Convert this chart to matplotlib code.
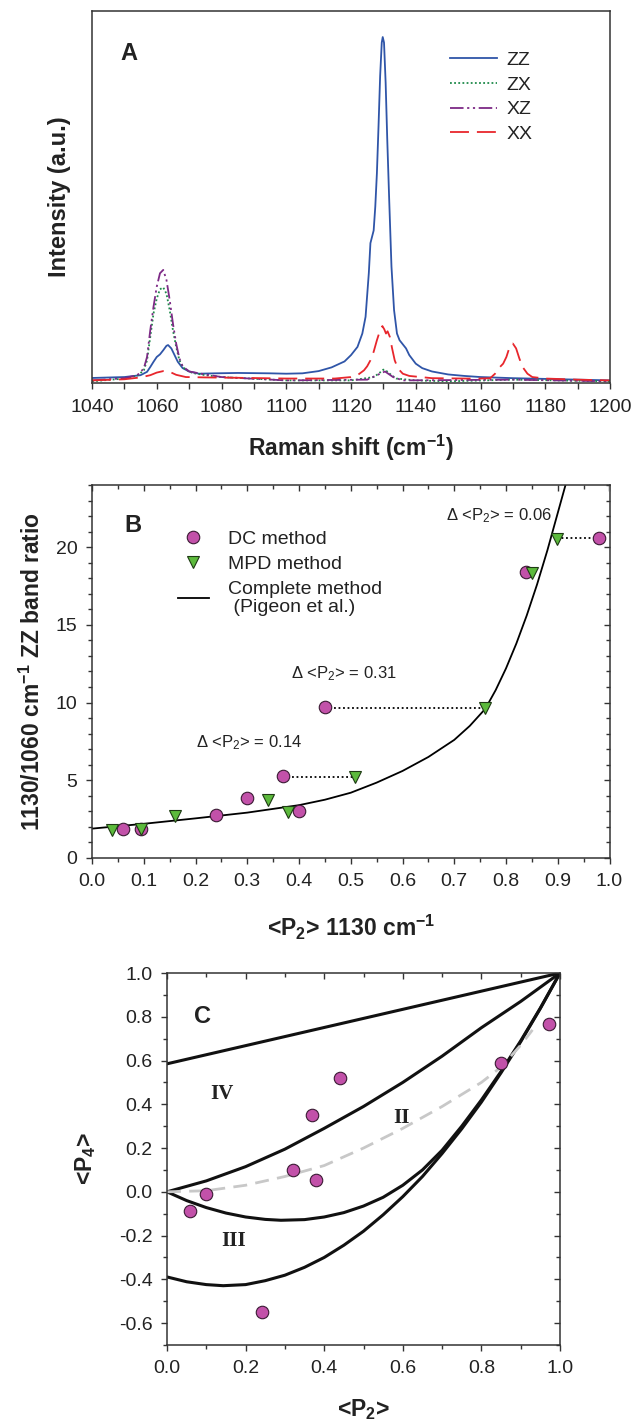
import matplotlib
matplotlib.use('Agg')
import matplotlib.pyplot as plt
from matplotlib.ticker import MultipleLocator, NullLocator
from matplotlib.lines import Line2D

plt.rcParams['font.family'] = ['Liberation Sans', 'DejaVu Sans']
plt.rcParams['mathtext.fontset'] = 'custom'
plt.rcParams['mathtext.rm'] = 'Liberation Sans'
plt.rcParams['mathtext.it'] = 'Liberation Sans:italic'
plt.rcParams['mathtext.bf'] = 'Liberation Sans:bold'
plt.rcParams['mathtext.default'] = 'regular'

# ---------------- Panel A data (Raman spectra, arbitrary units) ----------------
zz_x = [1040, 1050, 1055, 1057, 1058, 1059, 1060, 1061, 1062, 1063, 1063.5, 1064.5, 1065.5, 1066.5,
        1068, 1070, 1073, 1078, 1085, 1095, 1100, 1105, 1110, 1114, 1116.5, 1118, 1120, 1122,
        1123.5, 1124.5, 1125.5, 1126, 1127, 1127.5, 1128, 1128.5, 1129, 1129.5, 1129.8, 1130.2,
        1130.7, 1131.2, 1131.8, 1132.5, 1133.3, 1134.2, 1135, 1136, 1137, 1138, 1140, 1142, 1145,
        1150, 1155, 1160, 1170, 1180, 1200]
zz_y = [1.35, 1.6, 2.1, 3.0, 4.3, 5.7, 7.0, 7.7, 8.8, 10.0, 10.2, 9.3, 7.5, 5.7,
        4.0, 3.1, 2.5, 2.6, 2.7, 2.6, 2.5, 2.6, 3.2, 4.2, 5.2, 5.8, 7.5, 9.7,
        13.3, 17.8, 29.5, 37.6, 41.0, 47.4, 56.4, 69.0, 82.5, 91.5, 93.0, 91.5,
        80.7, 65.4, 49.2, 31.3, 19.6, 13.3, 11.5, 10.4, 9.3, 7.5, 5.2, 4.0, 3.1,
        2.3, 1.9, 1.6, 1.3, 1.1, 0.7]

zx_x = [1040, 1050, 1054, 1056, 1057, 1058, 1059, 1060, 1061, 1062, 1063, 1064, 1065, 1066,
        1067, 1068, 1069, 1071, 1075, 1080, 1100, 1120, 1127, 1128.5, 1130, 1131, 1132.5, 1134,
        1140, 1150, 1170, 1200]
zx_y = [0.45, 1.2, 2.0, 3.4, 6.1, 12.4, 18.7, 22.7, 25.2, 25.7, 24.0, 19.6, 14.2, 9.7,
        6.1, 4.3, 3.6, 2.7, 2.1, 1.6, 0.7, 0.7, 1.6, 2.5, 3.6, 3.2, 2.1, 1.2,
        0.7, 0.45, 0.9, 0.45]

xz_x = [1040, 1050, 1054, 1056, 1057, 1058, 1059, 1060, 1061, 1062, 1063, 1064, 1065, 1066,
        1067, 1068, 1070, 1075, 1080, 1100, 1125, 1128, 1130.5, 1133, 1136, 1170, 1200]
xz_y = [0.7, 1.3, 2.1, 3.9, 7.0, 14.2, 20.5, 25.9, 29.5, 30.4, 27.7, 22.3, 16.0, 10.6,
        6.6, 4.5, 3.1, 2.3, 1.6, 0.7, 0.9, 2.1, 3.1, 1.6, 0.7, 0.9, 0.45]

xx_x = [1040, 1050, 1055, 1058, 1060, 1062, 1064, 1066, 1069, 1075, 1085, 1100, 1115, 1120,
        1122, 1124, 1125, 1126, 1127, 1128, 1129, 1129.7, 1130.3, 1130.8, 1131.3, 1132, 1132.7,
        1133.5, 1134.5, 1136, 1138, 1145, 1155, 1160, 1163, 1164.5, 1166, 1167, 1168, 1169,
        1170, 1171, 1172, 1173, 1174.5, 1176, 1180, 1190, 1200]
xx_y = [0.7, 1.0, 1.5, 2.1, 2.8, 3.2, 3.0, 2.2, 1.6, 1.5, 1.4, 1.2, 1.2, 1.6,
        2.1, 3.4, 4.5, 6.1, 8.4, 11.5, 14.2, 15.3, 14.4, 13.3, 13.9, 12.4, 9.3,
        6.1, 3.9, 2.5, 1.9, 1.3, 1.2, 1.2, 1.3, 2.5, 4.3, 5.2, 7.0, 9.7,
        10.6, 9.3, 6.6, 4.3, 2.5, 1.6, 1.2, 0.9, 0.7]

# ---------------- Panel B data ----------------
dc_p2 = [0.059, 0.095, 0.24, 0.30, 0.37, 0.40, 0.45, 0.839, 0.98]
dc_ratio = [1.85, 1.89, 2.75, 3.83, 5.27, 3.03, 9.70, 18.4, 20.6]
mpd_p2 = [0.039, 0.094, 0.16, 0.34, 0.379, 0.509, 0.759, 0.85, 0.899]
mpd_ratio = [1.78, 1.89, 2.71, 3.76, 2.97, 5.18, 9.63, 18.34, 20.55]
complete_p2 = [0.0, 0.1, 0.2, 0.3, 0.4, 0.45, 0.5, 0.55, 0.6, 0.65, 0.7, 0.73, 0.76, 0.78,
               0.8, 0.82, 0.84, 0.86, 0.88, 0.9, 0.915]
complete_ratio = [1.89, 2.2, 2.55, 2.92, 3.4, 3.75, 4.2, 4.85, 5.6, 6.5, 7.6, 8.5, 9.6, 10.8,
                  12.2, 13.8, 15.6, 17.6, 19.8, 22.2, 24.0]
gap_y = [5.2, 9.67, 20.58]
gap_from = [0.37, 0.45, 0.899]
gap_to = [0.509, 0.759, 0.98]
gap_labels = [r'$\Delta$ <P$_2$> = 0.14', r'$\Delta$ <P$_2$> = 0.31', r'$\Delta$ <P$_2$> = 0.06']
gap_label_x = [0.20, 0.385, 0.685]
gap_label_y = [7.4, 11.85, 22.05]

# ---------------- Panel C data ----------------
c_p2 = [0.058, 0.099, 0.241, 0.32, 0.37, 0.38, 0.441, 0.850, 0.971]
c_p4 = [-0.088, -0.012, -0.549, 0.099, 0.349, 0.056, 0.519, 0.589, 0.769]
upper_p2 = [0.0, 1.0]
upper_p4 = [0.585, 1.0]
bound1_p2 = [0.0, 0.1, 0.2, 0.3, 0.4, 0.5, 0.6, 0.7, 0.8, 0.9, 1.0]
bound1_p4 = [0.0, 0.05, 0.115, 0.195, 0.29, 0.39, 0.50, 0.62, 0.75, 0.87, 1.0]
bound2_p2 = [0.0, 0.05, 0.1, 0.15, 0.2, 0.25, 0.29, 0.35, 0.4, 0.45, 0.5, 0.55, 0.6, 0.65, 0.7,
             0.75, 0.8, 0.85, 0.9, 0.95, 1.0]
bound2_p4 = [0.0, -0.04, -0.072, -0.097, -0.115, -0.126, -0.13, -0.127, -0.115, -0.095, -0.065,
             -0.025, 0.03, 0.1, 0.19, 0.3, 0.42, 0.55, 0.69, 0.84, 1.0]
lower_p2 = [0.0, 0.05, 0.1, 0.143, 0.2, 0.25, 0.3, 0.35, 0.4, 0.45, 0.5, 0.55, 0.6, 0.65, 0.7,
            0.75, 0.8, 0.85, 0.9, 0.95, 1.0]
lower_p4 = [-0.389, -0.411, -0.424, -0.429, -0.424, -0.406, -0.381, -0.345, -0.30, -0.244,
            -0.18, -0.105, -0.022, 0.07, 0.175, 0.288, 0.41, 0.544, 0.686, 0.838, 1.0]
mpd_curve_p2 = [0.0, 0.1, 0.2, 0.3, 0.4, 0.5, 0.6, 0.7, 0.8, 0.85, 0.9, 0.93]
mpd_curve_p4 = [0.0, 0.005, 0.03, 0.07, 0.12, 0.20, 0.29, 0.39, 0.50, 0.57, 0.67, 0.74]
region_labels = ['IV', 'II', 'III']
region_x = [0.139, 0.597, 0.17]
region_y = [0.449, 0.338, -0.225]

W, H = 634, 1424
fig = plt.figure(figsize=(W / 100, H / 100), dpi=100)

TXT = '#222222'
SPINE = '#333333'
TICK_FS = 14
LABEL_FS = 16.5
DOT_FACE = '#c251a9'
DOT_EDGE = '#3a1a33'
TRI_FACE = '#5cba3c'
TRI_EDGE = '#1e3a14'


def style_spines(ax, lw=1.1):
    for s in ax.spines.values():
        s.set_color(SPINE)
        s.set_linewidth(lw)


def mirror_ticks(ax, xmaj, xmin, ymaj, ymin):
    top = ax.secondary_xaxis('top')
    top.xaxis.set_major_locator(MultipleLocator(xmaj))
    top.xaxis.set_minor_locator(MultipleLocator(xmin))
    top.tick_params(which='both', direction='in', labeltop=False, color=SPINE, width=1.0)
    top.tick_params(which='major', length=4.5)
    top.tick_params(which='minor', length=3)
    top.spines['top'].set_visible(False)
    right = ax.secondary_yaxis('right')
    right.yaxis.set_major_locator(MultipleLocator(ymaj))
    right.yaxis.set_minor_locator(MultipleLocator(ymin))
    right.tick_params(which='both', direction='in', labelright=False, color=SPINE, width=1.0)
    right.tick_params(which='major', length=4.5)
    right.tick_params(which='minor', length=3)
    right.spines['right'].set_visible(False)


# ================= Panel A =================
axA = fig.add_axes([92 / W, 1 - 383 / H, 518 / W, 372 / H])
axA.plot(zz_x, zz_y, color='#2f55a8', lw=1.3, ls='-', label='ZZ')
axA.plot(zx_x, zx_y, color='#1e8a4a', lw=1.3, ls=(0, (1, 1.3)), label='ZX')
axA.plot(xz_x, xz_y, color='#7d2a86', lw=1.3, ls=(0, (7.5, 2, 1.2, 2, 1.2, 2)), label='XZ')
axA.plot(xx_x, xx_y, color='#e8262c', lw=1.3, ls=(0, (10.5, 4.4)), label='XX')
axA.set_xlim(1040, 1200)
axA.set_ylim(0, 100)
axA.xaxis.set_major_locator(MultipleLocator(20))
axA.xaxis.set_minor_locator(MultipleLocator(10))
axA.yaxis.set_major_locator(NullLocator())
axA.tick_params(axis='x', which='both', direction='out', colors=SPINE, labelcolor=TXT,
                labelsize=TICK_FS, pad=7, width=1.0)
axA.tick_params(axis='x', which='major', length=4.5)
axA.tick_params(axis='x', which='minor', length=4.5)
style_spines(axA)
axA.set_xlabel('Raman shift (cm$^{-1}$)', fontsize=LABEL_FS, fontweight='bold', color=TXT, labelpad=12)
axA.set_ylabel('Intensity (a.u.)', fontsize=17, fontweight='bold', color=TXT, labelpad=15)
axA.text(0.071, 0.887, 'A', transform=axA.transAxes, fontsize=17, fontweight='bold',
         color=TXT, ha='center', va='center')
legA = axA.legend(loc='upper left', bbox_to_anchor=(0.691, 0.891), frameon=False, fontsize=14,
                  handlelength=2.4, handletextpad=0.5, labelspacing=0.36, borderpad=0,
                  borderaxespad=0)
for t in legA.get_texts():
    t.set_color(TXT)

# ================= Panel B =================
axB = fig.add_axes([92 / W, 1 - 858 / H, 517.5 / W, 373 / H])
axB.plot(complete_p2, complete_ratio, color='black', lw=1.3, zorder=2)
for y0, x0, x1 in zip(gap_y, gap_from, gap_to):
    axB.plot([x0, x1], [y0, y0], color='black', lw=1.3, ls=(0, (1, 1.5)), zorder=2)
axB.plot(dc_p2, dc_ratio, ls='none', marker='o', ms=9, mfc=DOT_FACE, mec=DOT_EDGE, mew=0.8, zorder=3)
axB.plot(mpd_p2, mpd_ratio, ls='none', marker='v', ms=9, mfc=TRI_FACE, mec=TRI_EDGE, mew=0.8, zorder=4)
for lab, lx, ly in zip(gap_labels, gap_label_x, gap_label_y):
    axB.text(lx, ly, lab, fontsize=12, color=TXT, ha='left', va='center')
axB.set_xlim(0, 1.0)
axB.set_ylim(0, 24)
axB.xaxis.set_major_locator(MultipleLocator(0.1))
axB.xaxis.set_minor_locator(MultipleLocator(0.05))
axB.yaxis.set_major_locator(MultipleLocator(5))
axB.yaxis.set_minor_locator(MultipleLocator(1))
axB.xaxis.set_major_formatter(plt.FuncFormatter(lambda v, p: f'{v:.1f}'))
axB.tick_params(which='both', direction='out', colors=SPINE, labelcolor=TXT, labelsize=TICK_FS, width=1.0)
axB.tick_params(which='major', length=4.5)
axB.tick_params(which='minor', length=3)
axB.tick_params(axis='x', pad=6)
axB.tick_params(axis='y', pad=6)
mirror_ticks(axB, 0.1, 0.05, 5, 1)
style_spines(axB)
axB.set_xlabel('<P$_2$> 1130 cm$^{-1}$', fontsize=LABEL_FS, fontweight='bold', color=TXT, labelpad=17)
axB.set_ylabel('1130/1060 cm$^{-1}$ ZZ band ratio', fontsize=LABEL_FS, fontweight='bold',
               color=TXT, labelpad=8)
axB.text(0.079, 0.892, 'B', transform=axB.transAxes, fontsize=17, fontweight='bold',
         color=TXT, ha='center', va='center')
hB = [Line2D([], [], ls='none', marker='o', ms=9, mfc=DOT_FACE, mec=DOT_EDGE, mew=0.8),
      Line2D([], [], ls='none', marker='v', ms=9, mfc=TRI_FACE, mec=TRI_EDGE, mew=0.8),
      Line2D([], [], color='black', lw=1.3)]
legB = axB.legend(hB, ['DC method', 'MPD method', 'Complete method\n (Pigeon et al.)'],
                  loc='upper left', bbox_to_anchor=(0.166, 0.878), frameon=False, fontsize=14,
                  handlelength=1.6, handletextpad=1.0, labelspacing=0.38, borderpad=0,
                  borderaxespad=0)
for t in legB.get_texts():
    t.set_color(TXT)
    t.set_linespacing(1.1)

# ================= Panel C =================
axC = fig.add_axes([167 / W, 1 - 1345 / H, 393 / W, 372 / H])
axC.plot(upper_p2, upper_p4, color='#111111', lw=2.2)
axC.plot(bound1_p2, bound1_p4, color='#111111', lw=2.2)
axC.plot(bound2_p2, bound2_p4, color='#111111', lw=2.2)
axC.plot(lower_p2, lower_p4, color='#111111', lw=2.2)
axC.plot(mpd_curve_p2, mpd_curve_p4, color='#c8c8c8', lw=2.0, ls=(0, (5, 3)))
axC.plot(c_p2, c_p4, ls='none', marker='o', ms=9, mfc=DOT_FACE, mec=DOT_EDGE, mew=0.8, zorder=3)
for lab, lx, ly in zip(region_labels, region_x, region_y):
    axC.text(lx, ly, lab, fontsize=15, fontweight='bold', family='Liberation Serif',
             color=TXT, ha='center', va='center')
axC.text(0.091, 0.802, 'C', fontsize=17, fontweight='bold', color=TXT, ha='center', va='center')
axC.set_xlim(0, 1.0)
axC.set_ylim(-0.7, 1.0)
axC.xaxis.set_major_locator(MultipleLocator(0.2))
axC.xaxis.set_minor_locator(MultipleLocator(0.1))
axC.yaxis.set_major_locator(MultipleLocator(0.2))
axC.yaxis.set_minor_locator(MultipleLocator(0.1))
axC.xaxis.set_major_formatter(plt.FuncFormatter(lambda v, p: f'{v:.1f}'))
axC.yaxis.set_major_formatter(plt.FuncFormatter(lambda v, p: f'{v:.1f}'.replace('-0.0', '0.0')))
axC.tick_params(which='both', direction='out', colors=SPINE, labelcolor=TXT, labelsize=TICK_FS, width=1.0)
axC.tick_params(which='major', length=4.5)
axC.tick_params(which='minor', length=3)
axC.tick_params(axis='x', pad=6)
axC.tick_params(axis='y', pad=6)
mirror_ticks(axC, 0.2, 0.1, 0.2, 0.1)
style_spines(axC)
axC.set_xlabel('<P$_2$>', fontsize=LABEL_FS, fontweight='bold', color=TXT, labelpad=15)
axC.set_ylabel('<P$_4$>', fontsize=LABEL_FS, fontweight='bold', color=TXT, labelpad=15)

fig.savefig('out.png', dpi=100)
